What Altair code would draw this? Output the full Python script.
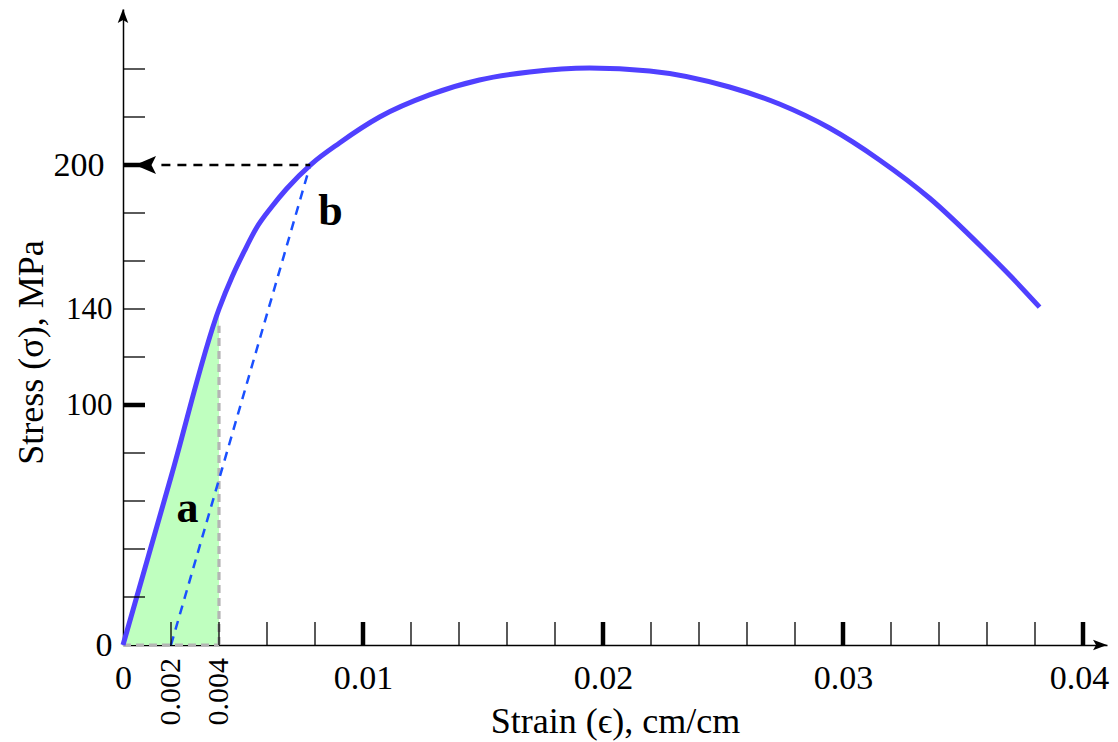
import altair as alt
import pandas as pd

# ---- layout constants (plot area) ----
W, H = 984, 636
XMAX = W / 24000.0
YMAX = H / 2.4
FONT = "Liberation Serif"

# ---- data ----
curve_x = [0, 0.002, 0.004, 0.00456, 0.00506, 0.00556, 0.00619, 0.00681, 0.00785, 0.00902,
           0.01069, 0.01277, 0.01485, 0.01694, 0.01944, 0.02194, 0.02527, 0.02735, 0.02944,
           0.03152, 0.0336, 0.0359, 0.03706, 0.03819]
curve_y = [0, 70, 140, 153.75, 164.2, 173.75, 182.5, 190.0, 200.4, 209.2,
           220.0, 229.2, 235.4, 238.75, 240.4, 239.2, 232.5, 225.4, 215.4,
           202.1, 186.25, 164.6, 152.9, 140.8]

area_x = [0, 0.004]
area_y = [0, 140]

gray_h_x = [0, 0.004]
gray_h_y = [0, 0]
gray_v_x = [0.004, 0.004]
gray_v_y = [0, 133]

offset_x = [0.002, 0.0078]
offset_y = [0, 200]

arrow200_x = [0.0016, 0.0078]
arrow200_y = [200, 200]
arrow200_tip_x = [0.0005]
arrow200_tip_y = [200]

x_minor_ticks = [0.002, 0.004, 0.006, 0.008, 0.012, 0.014, 0.016, 0.018, 0.022, 0.024,
                 0.026, 0.028, 0.032, 0.034, 0.036, 0.038]
x_major_ticks = [0.01, 0.02, 0.03, 0.04]
y_minor_ticks = [20, 40, 60, 80, 120, 140, 160, 180, 220, 240]
y_major_ticks = [100, 200]

x_label_values = [0, 0.01, 0.02, 0.03, 0.04]
x_rot_values = [0.002, 0.004]
x_rot_labels = ["0.002", "0.004"]
y_label_values = [0, 100, 140, 200]

note_labels = ["a", "b"]
note_x = [0.00269, 0.00865]
note_y = [51.4, 175]

x_title = "Strain (ϵ), cm/cm"
y_title = "Stress (σ), MPa"

# ---- helpers ----
def xs():
    return alt.Scale(domain=[0, XMAX], nice=False, zero=False)

def ys():
    return alt.Scale(domain=[0, YMAX], nice=False, zero=False)

X_AXIS = alt.Axis(
    values=x_label_values, format="~g", ticks=False, tickSize=0, grid=False,
    domain=True, domainColor="black", domainWidth=1.5,
    labelFont=FONT, labelFontSize=34, labelColor="black", labelBaseline="alphabetic",
    labelPadding=43, labelFlush=False, labelOverlap=False, labelBound=False,
    labelOffset={"condition": {"test": "datum.value >= 0.035", "value": -4}, "value": 0},
    title=x_title, titleFont=FONT, titleFontSize=36, titleFontWeight="normal",
    titleColor="black", titleX=492, titleY=87, titleBaseline="alphabetic",
    titleAlign="center")

Y_AXIS = alt.Axis(
    values=y_label_values, format="d", ticks=False, tickSize=0, grid=False,
    domain=True, domainColor="black", domainWidth=1.5,
    labelFont=FONT,
    labelFontSize={"condition": {"test": "datum.value == 100 || datum.value == 140", "value": 31}, "value": 34},
    labelPadding={"condition": {"test": "datum.value == 200", "value": 19}, "value": 11},
    labelColor="black", labelBaseline="middle", labelFlush=False, labelOverlap=False,
    labelBound=False,
    title=y_title, titleFont=FONT, titleFontSize=36, titleFontWeight="normal",
    titleColor="black", titleAngle=270, titleX=-81, titleY=343,
    titleBaseline="alphabetic", titleAlign="center")

def X(field="x"):
    return alt.X(f"{field}:Q", scale=xs(), axis=X_AXIS)

def Y(field="y"):
    return alt.Y(f"{field}:Q", scale=ys(), axis=Y_AXIS)

def df(**cols):
    return pd.DataFrame(cols)

# ---- layers ----
green = alt.Chart(df(x=area_x, y=area_y)).mark_area(color="#bfffbf", opacity=1).encode(
    x=X(), y=Y())

gray1 = alt.Chart(df(x=gray_h_x, y=gray_h_y)).mark_line(
    color="#b4b4b4", strokeWidth=3.2, strokeDash=[8, 5]).encode(x=X(), y=Y())
gray2 = alt.Chart(df(x=gray_v_x, y=gray_v_y)).mark_line(
    color="#b4b4b4", strokeWidth=3.2, strokeDash=[8, 5]).encode(x=X(), y=Y())

offset = alt.Chart(df(x=offset_x, y=offset_y)).mark_line(
    color="#1a50ff", strokeWidth=2.5, strokeDash=[9, 7]).encode(x=X(), y=Y())

curve = alt.Chart(df(x=curve_x, y=curve_y)).mark_line(
    color="#5040ff", strokeWidth=5, interpolate="monotone").encode(x=X(), y=Y())

dash200 = alt.Chart(df(x=arrow200_x, y=arrow200_y)).mark_line(
    color="black", strokeWidth=2.5, strokeDash=[9, 7]).encode(x=X(), y=Y())

tip200 = alt.Chart(df(x=arrow200_tip_x, y=arrow200_tip_y)).mark_point(
    filled=True, opacity=1, color="black", strokeWidth=0,
    shape="M0,0 L1.4,-0.6 L1.1,0 L1.4,0.6 Z", size=900).encode(x=X(), y=Y())

ytip = alt.Chart(df(x=[0], y=[YMAX])).mark_point(
    filled=True, opacity=1, color="black", strokeWidth=0,
    shape="M0,0 L0.6,1.6 L0,1.25 L-0.6,1.6 Z", size=306).encode(x=X(), y=Y())

xtip = alt.Chart(df(x=[XMAX], y=[0])).mark_point(
    filled=True, opacity=1, color="black", strokeWidth=0,
    shape="M0,0 L-1.6,-0.6 L-1.25,0 L-1.6,0.6 Z", size=306).encode(x=X(), y=Y())

xminor = alt.Chart(df(x=x_minor_ticks)).mark_rule(color="black", strokeWidth=1.3).encode(
    x=X(), y=alt.value(H), y2=alt.value(H - 23))
xmajor = alt.Chart(df(x=x_major_ticks)).mark_rule(color="black", strokeWidth=4.5).encode(
    x=X(), y=alt.value(H), y2=alt.value(H - 23))
yminor = alt.Chart(df(y=y_minor_ticks)).mark_rule(color="black", strokeWidth=1.3).encode(
    y=Y(), x=alt.value(0), x2=alt.value(22))
ymajor = alt.Chart(df(y=y_major_ticks)).mark_rule(color="black", strokeWidth=4.5).encode(
    y=Y(), x=alt.value(0), x2=alt.value(22))

rotlabels = alt.Chart(df(x=x_rot_values, y=[0, 0], t=x_rot_labels)).mark_text(
    font=FONT, fontSize=30, color="black", angle=270, align="right", baseline="middle",
    dx=-13).encode(x=X(), y=Y(), text="t:N")

notes = alt.Chart(df(x=note_x, y=note_y, t=note_labels)).mark_text(
    font=FONT, fontSize=44, fontWeight="bold", color="black", align="center",
    baseline="alphabetic").encode(x=X(), y=Y(), text="t:N")

chart = alt.layer(
    green, gray1, gray2, offset, curve, dash200, tip200, ytip, xtip,
    xminor, xmajor, yminor, ymajor, rotlabels, notes
).properties(
    width=W, height=H,
    autosize=alt.AutoSizeParams(type="none"),
    padding={"left": 115, "top": 1, "right": 3, "bottom": 97},
    background="white",
).configure_view(stroke=None)

chart.save("out.html", embed_options={"renderer": "svg", "actions": False})
